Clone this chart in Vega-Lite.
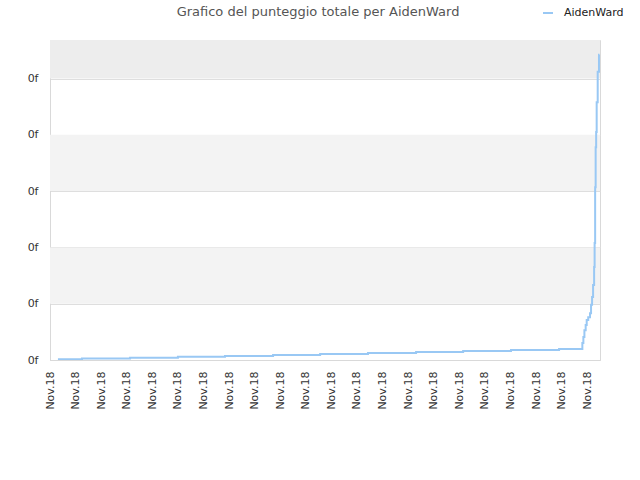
{
  "$schema": "https://vega.github.io/schema/vega-lite/v6.json",
  "width": 550,
  "height": 320,
  "autosize": "none",
  "padding": {"left": 50, "top": 40, "right": 40, "bottom": 120},
  "background": "#ffffff",
  "title": {
    "text": "Grafico del punteggio totale per AidenWard",
    "anchor": "middle",
    "dx": -7,
    "offset": -12,
    "font": "DejaVu Sans",
    "fontSize": 13,
    "fontWeight": "normal",
    "color": "#555555"
  },
  "config": {
    "view": {"stroke": "#d9d9d9", "strokeWidth": 1},
    "font": "DejaVu Sans"
  },
  "resolve": {"scale": {"color": "independent", "fill": "independent"}},
  "datasets": {
    "bands": [
      {"lo": 1, "hi": 2, "shade": "light"},
      {"lo": 3, "hi": 4, "shade": "light"},
      {"lo": 5, "hi": 5.684, "shade": "dark"}
    ],
    "score": [
      {"t": 0.31, "v": 0.012, "player": "AidenWard"},
      {"t": 1.25, "v": 0.027, "player": "AidenWard"},
      {"t": 3.13, "v": 0.041, "player": "AidenWard"},
      {"t": 5.0, "v": 0.057, "player": "AidenWard"},
      {"t": 6.84, "v": 0.073, "player": "AidenWard"},
      {"t": 8.72, "v": 0.091, "player": "AidenWard"},
      {"t": 10.56, "v": 0.108, "player": "AidenWard"},
      {"t": 12.43, "v": 0.126, "player": "AidenWard"},
      {"t": 14.31, "v": 0.144, "player": "AidenWard"},
      {"t": 16.15, "v": 0.162, "player": "AidenWard"},
      {"t": 18.02, "v": 0.179, "player": "AidenWard"},
      {"t": 19.9, "v": 0.195, "player": "AidenWard"},
      {"t": 20.81, "v": 0.3, "player": "AidenWard"},
      {"t": 20.85, "v": 0.41, "player": "AidenWard"},
      {"t": 20.89, "v": 0.53, "player": "AidenWard"},
      {"t": 20.94, "v": 0.62, "player": "AidenWard"},
      {"t": 20.98, "v": 0.71, "player": "AidenWard"},
      {"t": 21.04, "v": 0.76, "player": "AidenWard"},
      {"t": 21.11, "v": 0.83, "player": "AidenWard"},
      {"t": 21.15, "v": 0.98, "player": "AidenWard"},
      {"t": 21.19, "v": 1.12, "player": "AidenWard"},
      {"t": 21.23, "v": 1.33, "player": "AidenWard"},
      {"t": 21.27, "v": 1.65, "player": "AidenWard"},
      {"t": 21.29, "v": 2.08, "player": "AidenWard"},
      {"t": 21.31, "v": 3.07, "player": "AidenWard"},
      {"t": 21.33, "v": 3.78, "player": "AidenWard"},
      {"t": 21.35, "v": 4.05, "player": "AidenWard"},
      {"t": 21.37, "v": 4.58, "player": "AidenWard"},
      {"t": 21.41, "v": 5.12, "player": "AidenWard"},
      {"t": 21.46, "v": 5.42, "player": "AidenWard"},
      {"t": 21.48, "v": 5.42, "player": "AidenWard"}
    ]
  },
  "layer": [
    {
      "data": {"name": "bands"},
      "mark": {"type": "rect"},
      "encoding": {
        "y": {"field": "lo", "type": "quantitative", "scale": {"domain": [0, 5.684], "nice": false}},
        "y2": {"field": "hi"},
        "fill": {
          "field": "shade",
          "type": "nominal",
          "scale": {"domain": ["light", "dark"], "range": ["#f3f3f3", "#ededed"]},
          "legend": null
        }
      }
    },
    {
      "data": {"name": "score"},
      "mark": {"type": "line", "interpolate": "step-after", "strokeWidth": 2, "clip": true},
      "encoding": {
        "x": {
          "field": "t",
          "type": "quantitative",
          "scale": {"domain": [0, 21.5], "nice": false, "zero": false},
          "axis": {
            "title": null,
            "values": [0, 1, 2, 3, 4, 5, 6, 7, 8, 9, 10, 11, 12, 13, 14, 15, 16, 17, 18, 19, 20, 21],
            "labelExpr": "'Nov.18'",
            "labelAngle": -90,
            "labelAlign": "right",
            "labelBaseline": "middle",
            "labelPadding": 11,
            "labelFontSize": 11,
            "labelColor": "#333333",
            "labelFont": "DejaVu Sans",
            "ticks": false,
            "grid": false,
            "domainColor": "#d9d9d9",
            "labelOverlap": false
          }
        },
        "y": {
          "field": "v",
          "type": "quantitative",
          "scale": {"domain": [0, 5.684], "nice": false},
          "axis": {
            "title": null,
            "values": [0, 1, 2, 3, 4, 5],
            "labelExpr": "'0f'",
            "labelFontSize": 11,
            "labelColor": "#333333",
            "labelFont": "DejaVu Sans",
            "labelPadding": 12,
            "ticks": false,
            "grid": true,
            "gridColor": "#dedede",
            "domainColor": "#d9d9d9"
          }
        },
        "color": {
          "field": "player",
          "type": "nominal",
          "scale": {"domain": ["AidenWard"], "range": ["#99c8f4"]},
          "legend": {
            "title": null,
            "orient": "none",
            "legendX": 492,
            "legendY": -33,
            "symbolType": "stroke",
            "symbolSize": 100,
            "symbolStrokeWidth": 2,
            "labelFontSize": 11,
            "labelColor": "#222222",
            "labelFont": "DejaVu Sans",
            "labelOffset": 10
          }
        }
      }
    }
  ]
}
